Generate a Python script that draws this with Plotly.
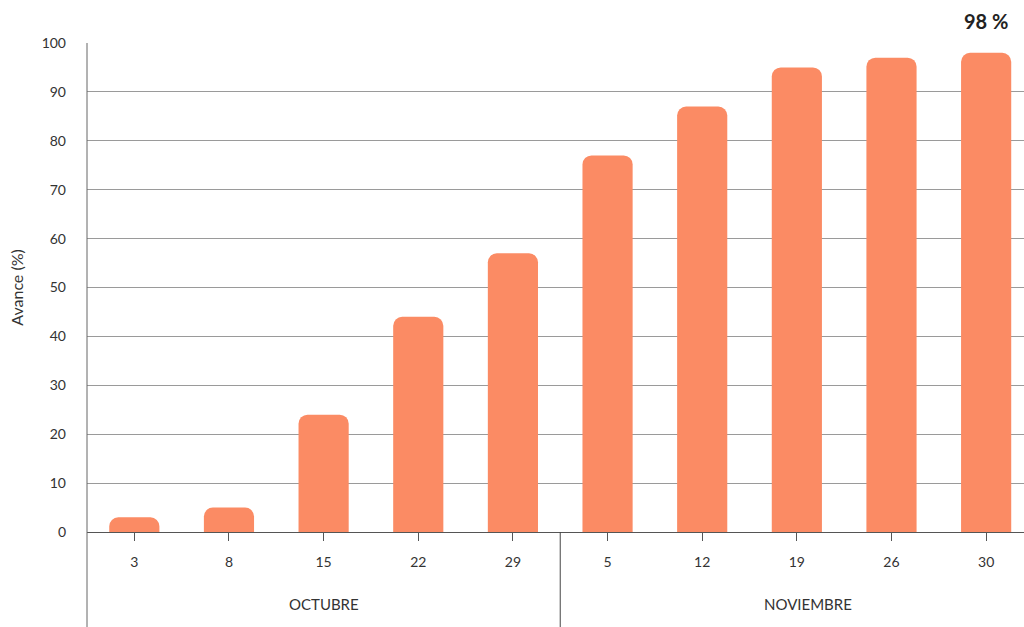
import plotly.graph_objects as go

months = ["OCTUBRE"] * 5 + ["NOVIEMBRE"] * 5
days = ["3", "8", "15", "22", "29", "5", "12", "19", "26", "30"]
avance = [3, 5, 24, 44, 57, 77, 87, 95, 97, 98]
y_ticks = [0, 10, 20, 30, 40, 50, 60, 70, 80, 90, 100]
last_label = "98 %"

FONT = "Lato"
BAR = "#FB8B64"
TXT = "#333333"
PLOT_H = 627 - 43 - 95

fig = go.Figure()
fig.add_trace(go.Bar(
    x=list(range(len(days))), y=avance,
    marker=dict(color=BAR, line=dict(width=0), cornerradius=9),
    width=0.53,
    hoverinfo="skip",
))

fig.add_annotation(
    x=len(days) - 1, y=avance[-1],
    xref="x", yref="y", text=f"<b>{last_label}</b>", showarrow=False,
    yshift=32, font=dict(family=FONT, size=20, color="#222"),
)

# group labels and dividers derived from month array
groups = []
for i, m in enumerate(months):
    if not groups or groups[-1][0] != m:
        groups.append([m, i, i])
    else:
        groups[-1][2] = i
for gi, (m, a, b) in enumerate(groups):
    fig.add_annotation(x=(a + b) / 2, y=-(604 - 532) / PLOT_H, xref="x", yref="paper",
                       text=m, showarrow=False, yanchor="middle",
                       xshift=11 if gi == len(groups) - 1 else 0,
                       font=dict(family=FONT, size=15, color=TXT))
for m, a, b in groups[1:]:
    fig.add_shape(type="line", xref="x", yref="paper", x0=a - 0.5, x1=a - 0.5,
                  y0=-95 / PLOT_H, y1=0, line=dict(color="#444", width=1))

# extend left axis line down through label area
fig.add_shape(type="line", xref="paper", yref="paper", x0=0, x1=0,
              y0=-95 / PLOT_H, y1=1, line=dict(color="#666", width=1))

fig.update_layout(
    width=1024, height=627,
    margin=dict(l=87, r=0, t=43, b=95),
    paper_bgcolor="white", plot_bgcolor="white",
    showlegend=False,
    bargap=0.47,
    font=dict(family=FONT, size=14, color=TXT),
)
fig.update_xaxes(
    range=[-0.5, 9.4],
    tickvals=list(range(len(days))), ticktext=days,
    tickson="boundaries",
    showline=True, linecolor="#555", linewidth=1,
    ticks="outside", ticklen=8, tickcolor="#555",
    ticklabelstandoff=9,
    tickfont=dict(family=FONT, size=14, color=TXT),
    showgrid=False, zeroline=False, automargin=False,
)
fig.update_yaxes(
    range=[0, 100], tickvals=y_ticks,
    showgrid=True, gridcolor="#9a9a9a", gridwidth=1,
    zeroline=True, zerolinecolor="#555", zerolinewidth=1,
    showline=False,
    ticks="", ticklabelstandoff=20,
    tickfont=dict(family=FONT, size=14, color=TXT),
    title=dict(text="Avance (%)", font=dict(family=FONT, size=16, color=TXT), standoff=14),
    automargin=False,
)

fig.write_html("out.html", config={"displayModeBar": False},
               post_script="document.body.style.margin='0';document.body.style.overflow='hidden';")
